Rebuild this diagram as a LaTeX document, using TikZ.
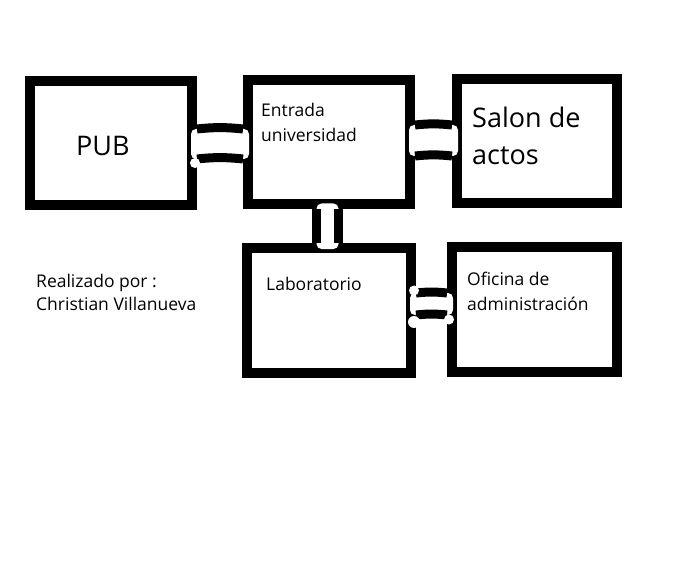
\documentclass[tikz,border=0pt]{standalone}
\usepackage{fontspec}
\setmainfont{Open Sans}
\begin{document}
\begin{tikzpicture}[x = 1pt, y = -1pt,
	sala/.style = {draw, line width = 10pt, minimum width = 162pt, minimum height = 124pt, inner sep = 0pt},
	pasillo/.style = {line width = 9pt},
	hueco/.style = {fill = white, rounded corners = 5pt},
	texto/.style = {anchor = base west, inner sep = 0pt, align = left, font = \fontsize{17.5}{25}\selectfont}]
	\useasboundingbox[fill = white] (0,0) rectangle (696,564);
	
	% salas
	\node[sala] (pub) at (111,143.5) {};
	\node[sala] (entrada) at (329,142.5) {};
	\node[sala, minimum width = 160pt] (salon) at (537,141) {};
	\node[sala, minimum width = 164pt, minimum height = 125pt] (lab) at (329,310.5) {};
	\node[sala, minimum width = 165pt, minimum height = 125pt] (oficina) at (534.5,309.5) {};
	
	% huecos en las paredes
	\fill[hueco] ([xshift = -6pt, yshift = 14.5pt]pub.east) rectangle ([xshift = 6pt, yshift = -16.5pt]entrada.west);
	\fill[hueco] ([xshift = -6pt, yshift = 17.5pt]entrada.east) rectangle ([xshift = 6pt, yshift = -15pt]salon.west);
	\fill[hueco] ([xshift = -12.5pt, yshift = 6pt]entrada.south) rectangle ([xshift = 9.5pt, yshift = -6pt]lab.north);
	\fill[hueco] ([xshift = -6pt, yshift = 17.5pt]lab.east) rectangle ([xshift = 6pt, yshift = -5.5pt]oficina.west);
	
	% pasillos
	\draw[pasillo] ([yshift = 14.5pt]pub.east) to[bend left = 6] ([yshift = 13.5pt]entrada.west);
	\draw[pasillo] ([yshift = -15.5pt]pub.east) to[bend left = 6] ([yshift = -16.5pt]entrada.west);
	
	\draw[pasillo] ([yshift = 17.5pt]entrada.east) to[bend left = 6] ([yshift = 16pt]salon.west);
	\draw[pasillo] ([yshift = -13.5pt]entrada.east) to[bend left = 6] ([yshift = -15pt]salon.west);
	
	\draw[pasillo] ([xshift = -12.5pt]entrada.south) -- ([xshift = -12.5pt]lab.north);
	\draw[pasillo] ([xshift = 9.5pt]entrada.south) -- ([xshift = 9.5pt]lab.north);
	
	\draw[pasillo] ([yshift = 17.5pt]lab.east) to[bend left = 6] ([yshift = 16.5pt]oficina.west);
	\draw[pasillo] ([yshift = -4.5pt]lab.east) to[bend left = 6] ([yshift = -5.5pt]oficina.west);
	
	% esquinas redondeadas de los huecos
	\fill[white] ([xshift = -2pt, yshift = -19.5pt]pub.east) circle (5pt);
	\fill[white] ([xshift = -2pt, yshift = 20pt]lab.east) circle (5pt);
	\fill[white] ([xshift = -2pt, yshift = -11.5pt]lab.east) circle (6pt);
	\fill[white] ([xshift = 2pt, yshift = -10pt]oficina.west) circle (5pt);
	
	% textos
	\node[texto, font = \fontsize{27}{30}\selectfont] (tpub) at (76,156) {PUB};
	\node[texto] (tentrada) at (261,142) {Entrada\\universidad};
	\node[texto, font = \fontsize{27}{37}\selectfont] (tsalon) at (472,165) {Salon de\\actos};
	\node[texto] (tlab) at (266,290) {Laboratorio};
	\node[texto] (toficina) at (467,310) {Oficina de\\administración};
	\node[texto, font = \fontsize{17.5}{23}\selectfont] (tautor) at (36,310) {Realizado por :\\Christian Villanueva};
\end{tikzpicture}
\end{document}
